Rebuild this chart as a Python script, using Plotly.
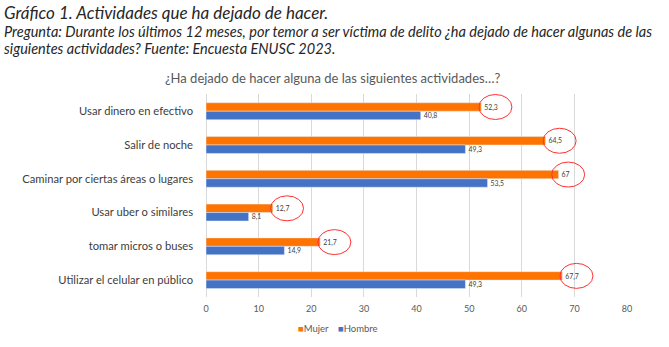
import plotly.graph_objects as go

categorias = [
    "Usar dinero en efectivo",
    "Salir de noche",
    "Caminar por ciertas áreas o lugares",
    "Usar uber o similares",
    "tomar micros o buses",
    "Utilizar el celular en público",
]
mujer = [52.3, 64.5, 67, 12.7, 21.7, 67.7]
hombre = [40.8, 49.3, 53.5, 8.1, 14.9, 49.3]
ticks_x = [0, 10, 20, 30, 40, 50, 60, 70, 80]
series = ["Mujer", "Hombre"]

W, H = 669, 347
L, R, T, B = 206, 42, 94, 50
PW, PH = W - L - R, H - T - B

def fmt(v):
    s = ("%.1f" % v).rstrip("0").rstrip(".")
    return s.replace(".", ",")

def px_x(p):
    return (p - L) / PW

def px_y(p):
    return (H - B - p) / PH

FONT = "Lato"
NARANJA = "#FF7300"
AZUL = "#4472C4"
colores = [NARANJA, AZUL]

fig = go.Figure()
for nombre, vals, col in zip(series, [mujer, hombre], colores):
    fig.add_trace(go.Bar(
        y=categorias, x=vals, orientation="h", name=nombre,
        marker_color=col, text=[fmt(v) for v in vals],
        textposition="outside", cliponaxis=False,
        textfont=dict(size=9, color="#404040", family=FONT),
        showlegend=False,
    ))

# red hand-drawn style ellipses around the "Mujer" labels
for i, v in enumerate(mujer):
    n = len(fmt(v))
    c = 3 + n * 2.3 + 2
    fig.add_shape(
        type="circle", xref="x", yref="y",
        xsizemode="pixel", ysizemode="pixel",
        xanchor=v, yanchor=i - 0.125,
        x0=c - 16.5, x1=c + 16.5, y0=-12.5, y1=12.5,
        line=dict(color="#FF3030", width=1),
    )

leyenda = "<span style='white-space:pre'>   </span>".join(
    f"<span style='color:{c}'>■</span>{n}" for n, c in zip(series, colores)
)
leyenda = (f"<span style='color:{NARANJA}'>■</span>Mujer"
           f"  \u2002<span style='color:{AZUL}'>■</span>Hombre")

fig.update_layout(
    width=W, height=H,
    margin=dict(l=L, r=R, t=T, b=B, pad=0, autoexpand=False),
    paper_bgcolor="white", plot_bgcolor="white",
    barmode="group", bargap=0.5, bargroupgap=0,
    font=dict(family=FONT, color="#595959"),
    showlegend=False,
    xaxis=dict(
        range=[0, 80], tickvals=ticks_x, ticktext=[str(t) for t in ticks_x],
        showgrid=True, gridcolor="#D9D9D9", gridwidth=1,
        zeroline=True, zerolinecolor="#D9D9D9", zerolinewidth=1,
        showline=False, ticks="", ticklabelstandoff=5,
        tickfont=dict(size=9, color="#595959", family=FONT),
        fixedrange=True,
    ),
    yaxis=dict(
        autorange="reversed", showgrid=False, zeroline=False, showline=False,
        ticks="", ticklabelstandoff=12,
        tickfont=dict(size=11.2, color="#404040", family=FONT),
        fixedrange=True,
    ),
    annotations=[
        dict(text="Gráfico 1. Actividades que ha dejado de hacer.",
             xref="paper", yref="paper", x=px_x(2), y=px_y(13),
             xanchor="left", yanchor="middle", showarrow=False,
             font=dict(size=17, color="#262626", family=FONT, style="italic")),
        dict(text="Pregunta: Durante los últimos 12 meses, por temor a ser víctima de delito ¿ha dejado de hacer algunas de las",
             xref="paper", yref="paper", x=px_x(2), y=px_y(32),
             xanchor="left", yanchor="middle", showarrow=False,
             font=dict(size=14.5, color="#262626", family=FONT, style="italic")),
        dict(text="siguientes actividades? Fuente: Encuesta ENUSC 2023.",
             xref="paper", yref="paper", x=px_x(2), y=px_y(49),
             xanchor="left", yanchor="middle", showarrow=False,
             font=dict(size=14.5, color="#262626", family=FONT, style="italic")),
        dict(text="¿Ha dejado de hacer alguna de las siguientes actividades…?",
             xref="paper", yref="paper", x=px_x(332), y=px_y(78),
             xanchor="center", yanchor="middle", showarrow=False,
             font=dict(size=13, color="#595959", family=FONT)),
        dict(text=leyenda,
             xref="paper", yref="paper", x=px_x(296), y=px_y(328),
             xanchor="left", yanchor="middle", showarrow=False,
             font=dict(size=9.5, color="#595959", family=FONT)),
    ],
)

fig.write_html("out.html", config={"displayModeBar": False})
